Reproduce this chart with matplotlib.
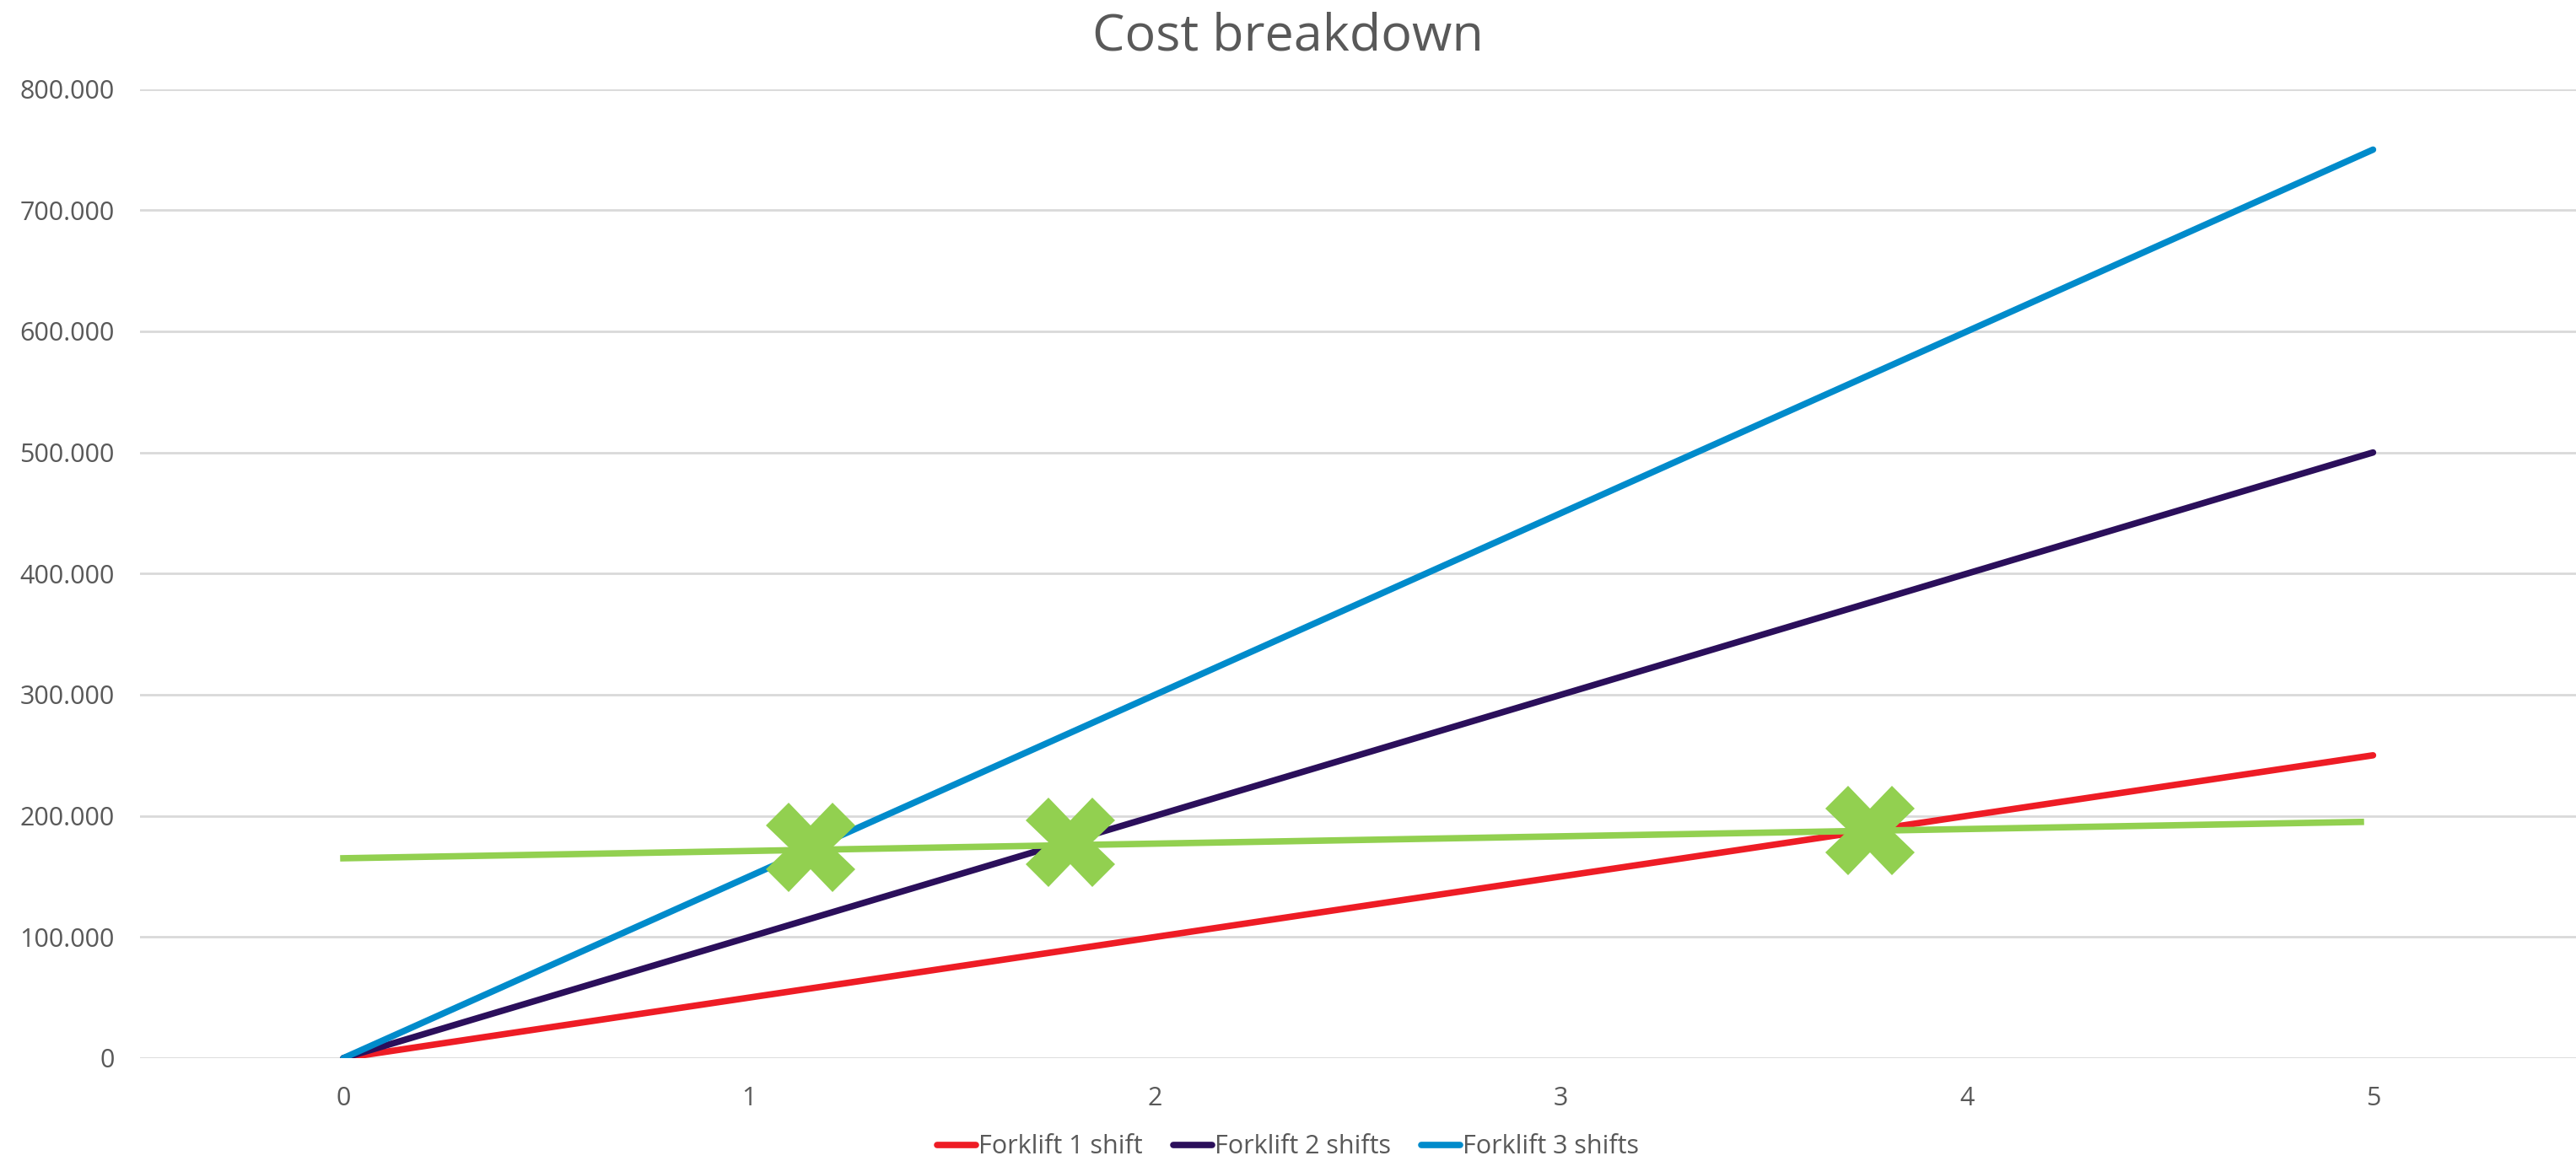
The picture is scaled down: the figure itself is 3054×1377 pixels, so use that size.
import matplotlib.pyplot as plt
from matplotlib.ticker import FuncFormatter

plt.rcParams['font.family'] = ['Open Sans', 'DejaVu Sans']

years = [0, 5]
cost_1shift = [0, 250000]
cost_2shifts = [0, 500000]
cost_3shifts = [0, 750000]

ref_x = [0, 4.97]
ref_y = [165000, 195000]

cross_x = [1.15, 1.79, 3.76]
cross_y = [174000, 178000, 188000]

grey = '#595959'

fig = plt.figure(figsize=(30.54, 13.77), dpi=100)
ax = fig.add_axes([0.0545, 0.0886, 0.9455, 0.8347])

ax.plot(years, cost_1shift, color='#ee1c25', lw=5.5, solid_capstyle='round', label='Forklift 1 shift', zorder=3)
ax.plot(years, cost_2shifts, color='#2b0f5b', lw=5.5, solid_capstyle='round', label='Forklift 2 shifts', zorder=3)
ax.plot(years, cost_3shifts, color='#008bcb', lw=5.5, solid_capstyle='round', label='Forklift 3 shifts', zorder=3)
ax.plot(ref_x, ref_y, color='#92d050', lw=5.5, zorder=4)
ax.plot(cross_x, cross_y, ls='none', marker='X', ms=76, color='#92d050', mew=0, zorder=5)

ax.set_xlim(-0.5, 5.5)
ax.set_ylim(0, 800000)
ax.set_xticks(range(6))
ax.set_yticks(range(0, 800001, 100000))
ax.yaxis.set_major_formatter(FuncFormatter(lambda v, p: '0' if v == 0 else f'{int(v):,}'.replace(',', '.')))

ax.grid(axis='y', color='#d9d9d9', lw=2)
ax.set_axisbelow(True)
for s in ax.spines.values():
    s.set_visible(False)
ax.tick_params(length=0, labelsize=22, labelcolor=grey)
ax.tick_params(axis='x', pad=24)
ax.tick_params(axis='y', pad=22)

fig.text(0.5, 0.99, 'Cost breakdown', ha='center', va='top', fontsize=44, color=grey)

fig.legend(loc='center', bbox_to_anchor=(0.5, 0.012), ncol=3, frameon=False,
           fontsize=22, labelcolor=grey, handlelength=1.5, handletextpad=0.1, columnspacing=1.2)

fig.savefig('out.png', dpi=100)
